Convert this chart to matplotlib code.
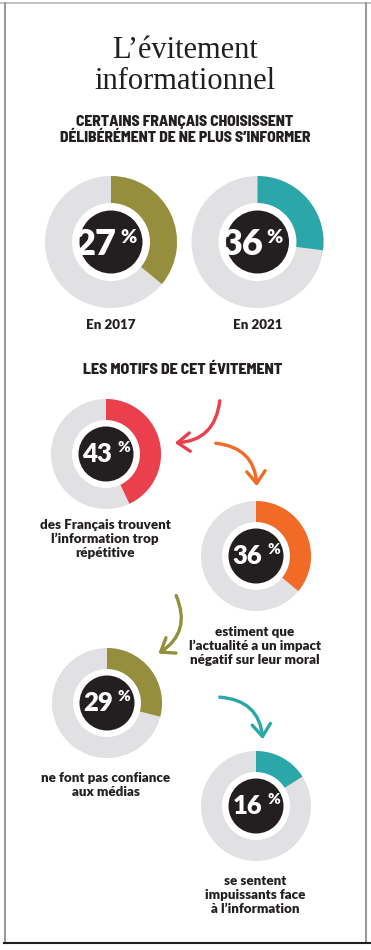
import matplotlib.pyplot as plt
from matplotlib.patches import Wedge, Circle, FancyArrowPatch

# --- data ---
title = "L\u2019évitement\ninformationnel"
subtitle = "CERTAINS FRANÇAIS CHOISISSENT\nDÉLIBÉRÉMENT DE NE PLUS S\u2019INFORMER"
years = ["En 2017", "En 2021"]
year_pct = [27, 36]
year_arc = [0.36, 0.27]   # the coloured arcs as drawn in the reference
year_colors = ["#958e3c", "#2ba7a9"]

motifs_title = "LES MOTIFS DE CET ÉVITEMENT"
motif_pct = [43, 36, 29, 16]
motif_labels = [
    "des Français trouvent\nl\u2019information trop\nrépétitive",
    "estiment que\nl\u2019actualité a un impact\nnégatif sur leur moral",
    "ne font pas confiance\naux médias",
    "se sentent\nimpuissants face\nà l\u2019information",
]
motif_colors = ["#ea3f4d", "#f26b26", "#958e3c", "#2ba7a9"]

INK = "#231f20"
GREY = "#e1e1e3"
BODY = ["Lato", "DejaVu Sans"]
HEAD = ["Barlow Semi Condensed", "Lato", "DejaVu Sans"]

W, H = 371, 950
fig = plt.figure(figsize=(W / 100, H / 100), dpi=100)
ax = fig.add_axes([0, 0, 1, 1])
ax.set_xlim(0, W)
ax.set_ylim(H, 0)
ax.set_aspect("equal")
ax.axis("off")

# frame
ax.plot([0, W], [2.5, 2.5], color="#b5b5b5", lw=1.2)
ax.plot([4.5, 4.5], [2.5, 943], color="#9a9a9a", lw=1.5)
ax.plot([365.5, 365.5], [2.5, 943], color="#9a9a9a", lw=1.5)
ax.plot([4, W], [943, 943], color=INK, lw=1.5)


def donut(cx, cy, r_out, r_in, r_black, frac, color, pct, big, small, dy_num, dx_pct, dy_pct):
    ax.add_patch(Wedge((cx, cy), r_out, 0, 360, width=r_out - r_in, color=GREY, lw=0))
    ax.add_patch(Wedge((cx, cy), r_out, -90, -90 + 360 * frac, width=r_out - r_in,
                       color=color, lw=0))
    ax.add_patch(Circle((cx, cy), r_black, color=INK, lw=0))
    ax.text(cx + 6, cy + dy_num, str(pct), color="white", fontsize=big,
            family=BODY, fontweight="heavy", ha="right", va="baseline")
    ax.text(cx + dx_pct, cy + dy_pct, "%", color="white", fontsize=small,
            family=BODY, fontweight="heavy", ha="left", va="baseline")


ax.text(185, 66, title, ha="center", va="center", fontsize=22, color=INK,
        family="Liberation Serif", linespacing=1.05)
ax.text(185, 130, subtitle, ha="center", va="center", fontsize=11.2, color=INK,
        family=HEAD, fontweight=800, linespacing=1.15)

# years
for i, (lab, pct, frac, col) in enumerate(zip(years, year_pct, year_arc, year_colors)):
    cx = 111 + i * 146.5
    donut(cx, 242, 66, 39, 31.5, frac, col, pct, 26, 14, 13, 9, 1)
    ax.text(cx, 325, lab, ha="center", va="center", fontsize=9.6, color=INK,
            family=BODY, fontweight="heavy")

ax.text(183, 370, motifs_title, ha="center", va="center", fontsize=11.4, color=INK,
        family=HEAD, fontweight=800)

# motifs
centres = [(106, 454), (256, 556), (107, 703), (256, 806)]
cap_y = [539, 646, 785, 895]
for (cx, cy), pct, lab, col, ly in zip(centres, motif_pct, motif_labels, motif_colors, cap_y):
    donut(cx, cy, 55, 34, 27.5, pct / 100, col, pct, 18.5, 11, 8, 11, -2)
    ax.text(cx - 1, ly, lab, ha="center", va="center", fontsize=9.6, color=INK,
            family=BODY, fontweight="heavy", linespacing=1.2)

# curved arrows
arrows = [((220, 398), (172, 443), motif_colors[0]),
          ((213, 443), (257, 489), motif_colors[1]),
          ((175, 593), (156, 655), motif_colors[2]),
          ((217, 697), (263, 742), motif_colors[3])]
for a, b, col in arrows:
    ax.add_patch(FancyArrowPatch(a, b, connectionstyle="arc3,rad=-0.45",
                                 arrowstyle="->,head_length=4,head_width=3",
                                 color=col, lw=2.4, mutation_scale=2.2))

fig.savefig("out.png", dpi=100)
